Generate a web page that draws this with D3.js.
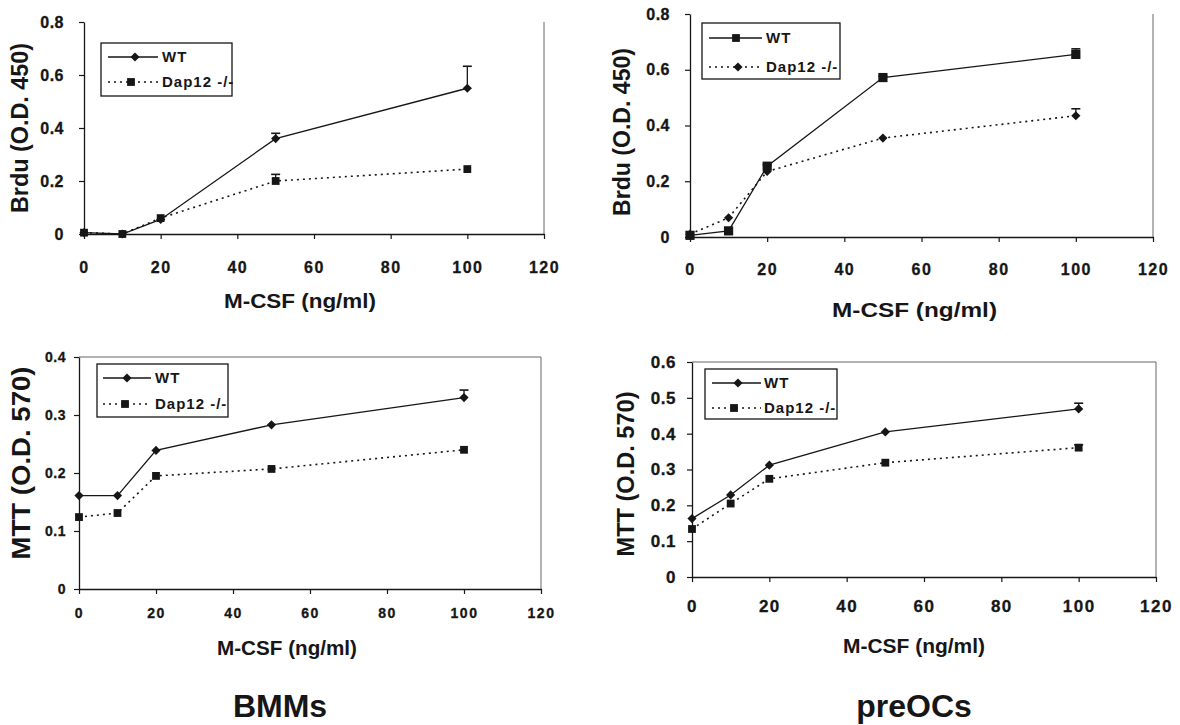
<!DOCTYPE html>
<html>
<head>
<meta charset="utf-8">
<script src="https://cdn.jsdelivr.net/npm/d3@7"></script>
<style>
  html, body { margin: 0; padding: 0; background: #fff; }
  svg { display: block; font-family: "Liberation Sans", Arial, sans-serif; }
</style>
</head>
<body>
<svg id="chart" width="1180" height="725"></svg>
<script>
// ---------- data ----------
const doses = [0, 10, 20, 50, 100];
const xTicks = [0, 20, 40, 60, 80, 100, 120];

const brduTicks = [0, 0.2, 0.4, 0.6, 0.8];
const brduTickLabels = ["0", "0.2", "0.4", "0.6", "0.8"];
const mttBmmTicks = [0, 0.1, 0.2, 0.3, 0.4];
const mttBmmTickLabels = ["0", "0.1", "0.2", "0.3", "0.4"];
const mttPreTicks = [0, 0.1, 0.2, 0.3, 0.4, 0.5, 0.6];
const mttPreTickLabels = ["0", "0.1", "0.2", "0.3", "0.4", "0.5", "0.6"];

const seriesNames = ["WT", "Dap12 -/-"];
const groupLabels = ["BMMs", "preOCs"];
const xTitle = "M-CSF (ng/ml)";
const brduTitle = "Brdu (O.D. 450)";
const mttTitle = "MTT (O.D. 570)";

// BMMs – BrdU
const bmmBrduWT = [0.005, 0.0, 0.055, 0.36, 0.55];
const bmmBrduWTerr = [0, 0, 0, 0.02, 0.083];
const bmmBrduKO = [0.005, 0.0, 0.06, 0.20, 0.245];
const bmmBrduKOerr = [0, 0, 0, 0.025, 0.004];
// preOCs – BrdU
const preBrduWT = [0.006, 0.022, 0.254, 0.572, 0.655];
const preBrduWTerr = [0, 0, 0.005, 0.005, 0.02];
const preBrduKO = [0.01, 0.069, 0.235, 0.355, 0.435];
const preBrduKOerr = [0, 0, 0, 0, 0.025];
// BMMs – MTT
const bmmMttWT = [0.161, 0.161, 0.239, 0.283, 0.330];
const bmmMttWTerr = [0, 0, 0, 0, 0.013];
const bmmMttKO = [0.124, 0.131, 0.195, 0.207, 0.240];
const bmmMttKOerr = [0, 0, 0, 0, 0.003];
// preOCs – MTT
const preMttWT = [0.163, 0.229, 0.312, 0.405, 0.469];
const preMttWTerr = [0, 0, 0, 0, 0.016];
const preMttKO = [0.134, 0.205, 0.274, 0.319, 0.361];
const preMttKOerr = [0, 0, 0, 0, 0.008];

// ---------- layout ----------
const svg = d3.select("#chart");
const ink = "#161616";

const panels = [
  { x0: 84, x1: 544, y0: 234, y1: 22, yMax: 0.8, ticks: brduTicks, tickLabels: brduTickLabels,
    wt: bmmBrduWT, wtErr: bmmBrduWTerr, ko: bmmBrduKO, koErr: bmmBrduKOerr,
    wtShape: "diamond", koShape: "square", yTitle: brduTitle, titleFont: 23,
    yTitlePos: [20, 128, 170], xTitlePos: [224, 308, 152], tickFont: 16, tickGap: 20, xLabBase: 273,
    legend: { x: 101, y: 43, w: 131, h: 53, l0: 108, l1: 158, wtM: 135, koM: 131, tx: 162, r1: 57, r2: 82 },
    topBorder: false },
  { x0: 690, x1: 1153, y0: 237, y1: 14, yMax: 0.8, ticks: brduTicks, tickLabels: brduTickLabels,
    wt: preBrduWT, wtErr: preBrduWTerr, ko: preBrduKO, koErr: preBrduKOerr,
    wtShape: "square", koShape: "diamond", yTitle: brduTitle, titleFont: 23,
    yTitlePos: [622, 132, 168], xTitlePos: [832, 317, 165], tickFont: 16, tickGap: 20, xLabBase: 275,
    legend: { x: 702, y: 23, w: 138, h: 56, l0: 709, l1: 762, wtM: 736, koM: 738, tx: 766, r1: 38, r2: 67 },
    topBorder: false },
  { x0: 79, x1: 541, y0: 589, y1: 357, yMax: 0.4, ticks: mttBmmTicks, tickLabels: mttBmmTickLabels,
    wt: bmmMttWT, wtErr: bmmMttWTerr, ko: bmmMttKO, koErr: bmmMttKOerr,
    wtShape: "diamond", koShape: "square", yTitle: mttTitle, titleFont: 25,
    yTitlePos: [22, 463, 193], xTitlePos: [217, 655, 140], tickFont: 14, tickGap: 13, xLabBase: 618,
    legend: { x: 97, y: 364, w: 131, h: 53, l0: 103, l1: 151, wtM: 127, koM: 125, tx: 155, r1: 378, r2: 404 },
    topBorder: true },
  { x0: 692, x1: 1156, y0: 577, y1: 362, yMax: 0.6, ticks: mttPreTicks, tickLabels: mttPreTickLabels,
    wt: preMttWT, wtErr: preMttWTerr, ko: preMttKO, koErr: preMttKOerr,
    wtShape: "diamond", koShape: "square", yTitle: mttTitle, titleFont: 23,
    yTitlePos: [626, 474, 165], xTitlePos: [843, 653, 142], tickFont: 17, tickGap: 16, xLabBase: 612,
    legend: { x: 705, y: 369, w: 132, h: 50, l0: 712, l1: 761, wtM: 738, koM: 734, tx: 764, r1: 383, r2: 408 },
    topBorder: true }
];

function marker(g, shape, cx, cy, big) {
  if (shape === "diamond") {
    const s = big ? 5 : 4.6;
    g.append("path")
      .attr("d", `M${cx},${cy - s}L${cx + s},${cy}L${cx},${cy + s}L${cx - s},${cy}Z`)
      .attr("fill", ink);
  } else {
    const s = big ? 4.6 : 3.9;
    g.append("rect")
      .attr("x", cx - s).attr("y", cy - s).attr("width", 2 * s).attr("height", 2 * s)
      .attr("fill", ink);
  }
}

panels.forEach(p => {
  const g = svg.append("g");
  const x = d3.scaleLinear().domain([0, 120]).range([p.x0, p.x1]);
  const y = d3.scaleLinear().domain([0, p.yMax]).range([p.y0, p.y1]);

  // frame (right / top)
  g.append("line").attr("x1", p.x1).attr("x2", p.x1).attr("y1", p.y1).attr("y2", p.y0)
    .attr("stroke", "#666").attr("stroke-width", 1);
  if (p.topBorder) {
    g.append("line").attr("x1", p.x0).attr("x2", p.x1).attr("y1", p.y1).attr("y2", p.y1)
      .attr("stroke", "#666").attr("stroke-width", 1);
  }

  // y axis
  const yAxis = d3.axisLeft(y).tickValues(p.ticks).tickFormat((d, i) => p.tickLabels[i])
    .tickSize(5).tickSizeOuter(0).tickPadding(p.tickGap - 5);
  const ya = g.append("g").attr("transform", `translate(${p.x0},0)`).call(yAxis);
  ya.select(".domain").attr("stroke", ink).attr("stroke-width", 1.3);
  ya.selectAll(".tick line").attr("stroke", ink).attr("stroke-width", 1.2);
  ya.selectAll(".tick text").attr("fill", ink).attr("font-size", p.tickFont)
    .attr("font-weight", "bold").attr("letter-spacing", 0.5)
    .attr("stroke", ink).attr("stroke-width", 0.3)
    .attr("font-family", "'Liberation Sans', Arial, sans-serif");

  // x axis
  const xAxis = d3.axisBottom(x).tickValues(xTicks).tickFormat(d3.format("d"))
    .tickSize(5).tickSizeOuter(0).tickPadding(0);
  const xa = g.append("g").attr("transform", `translate(0,${p.y0})`).call(xAxis);
  xa.select(".domain").attr("stroke", ink).attr("stroke-width", 1.3);
  xa.selectAll(".tick line").attr("stroke", ink).attr("stroke-width", 1.2);
  xa.selectAll(".tick text").attr("fill", ink).attr("font-size", p.tickFont)
    .attr("font-weight", "bold").attr("letter-spacing", 1.5)
    .attr("stroke", ink).attr("stroke-width", 0.3)
    .attr("dy", null).attr("y", p.xLabBase - p.y0)
    .attr("font-family", "'Liberation Sans', Arial, sans-serif");

  // lines
  const line = d3.line().x((d, i) => x(doses[i])).y(d => y(d));
  g.append("path").datum(p.ko).attr("d", line).attr("fill", "none")
    .attr("stroke", ink).attr("stroke-width", 1.6).attr("stroke-dasharray", "2,4");
  g.append("path").datum(p.wt).attr("d", line).attr("fill", "none")
    .attr("stroke", ink).attr("stroke-width", 1.3);

  // error bars
  [[p.wt, p.wtErr], [p.ko, p.koErr]].forEach(([vals, errs]) => {
    vals.forEach((v, i) => {
      if (errs[i] > 0.004) {
        const cx = x(doses[i]);
        g.append("line").attr("x1", cx).attr("x2", cx).attr("y1", y(v)).attr("y2", y(v + errs[i]))
          .attr("stroke", ink).attr("stroke-width", 1.3);
        g.append("line").attr("x1", cx - 4.5).attr("x2", cx + 4.5)
          .attr("y1", y(v + errs[i])).attr("y2", y(v + errs[i]))
          .attr("stroke", ink).attr("stroke-width", 1.6);
      }
    });
  });

  // markers
  p.ko.forEach((v, i) => marker(g, p.koShape, x(doses[i]), y(v), false));
  p.wt.forEach((v, i) => marker(g, p.wtShape, x(doses[i]), y(v), p.wtShape === "square"));

  // legend
  const L = p.legend;
  g.append("rect").attr("x", L.x).attr("y", L.y).attr("width", L.w).attr("height", L.h)
    .attr("fill", "#fff").attr("stroke", ink).attr("stroke-width", 1.3);
  g.append("line").attr("x1", L.l0).attr("x2", L.l1).attr("y1", L.r1).attr("y2", L.r1)
    .attr("stroke", ink).attr("stroke-width", 1.3);
  marker(g, p.wtShape, L.wtM, L.r1, false);
  g.append("line").attr("x1", L.l0).attr("x2", L.l1).attr("y1", L.r2).attr("y2", L.r2)
    .attr("stroke", ink).attr("stroke-width", 1.6).attr("stroke-dasharray", "2,4");
  marker(g, p.koShape, L.koM, L.r2, false);
  [[seriesNames[0], L.r1], [seriesNames[1], L.r2]].forEach(([t, ry]) => {
    g.append("text").attr("x", L.tx).attr("y", ry + 5).text(t)
      .attr("font-size", 15).attr("font-weight", "bold").attr("letter-spacing", 1)
      .attr("fill", ink);
  });

  // axis titles
  const [ytx, yty, ylen] = p.yTitlePos;
  g.append("text").text(p.yTitle)
    .attr("transform", `translate(${ytx + 8},${yty}) rotate(-90)`)
    .attr("text-anchor", "middle").attr("font-size", p.titleFont).attr("font-weight", "bold")
    .attr("textLength", ylen).attr("lengthAdjust", "spacingAndGlyphs").attr("fill", ink);
  const [xtx, xty, xlen] = p.xTitlePos;
  g.append("text").text(xTitle)
    .attr("x", xtx).attr("y", xty)
    .attr("font-size", 21).attr("font-weight", "bold")
    .attr("textLength", xlen).attr("lengthAdjust", "spacingAndGlyphs").attr("fill", ink);
});

// group labels
[[groupLabels[0], 280], [groupLabels[1], 914]].forEach(([t, cx]) => {
  svg.append("text").text(t).attr("x", cx).attr("y", 717)
    .attr("text-anchor", "middle").attr("font-size", 32).attr("font-weight", "bold")
    .attr("fill", ink);
});
</script>
</body>
</html>
